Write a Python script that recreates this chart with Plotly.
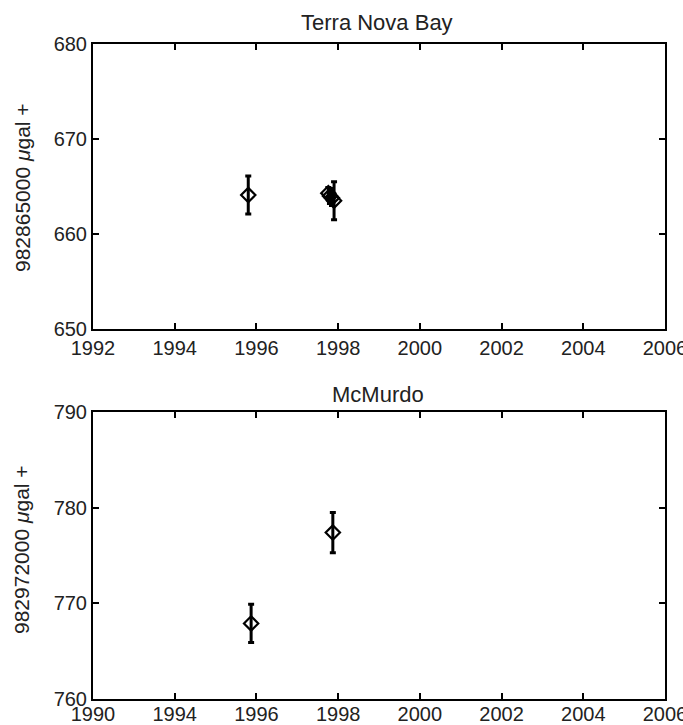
import plotly.graph_objects as go

# Terra Nova Bay data
tnb_year = [1995.8, 1997.76, 1997.8, 1997.85, 1997.9]
tnb_val = [664.1, 664.3, 664.0, 663.8, 663.5]
tnb_err = [2.0, 0.6, 0.8, 0.8, 2.0]

# McMurdo data
mcm_year = [1995.87, 1997.87]
mcm_val = [767.9, 777.4]
mcm_err = [2.0, 2.1]

top_xticks = [1992, 1994, 1996, 1998, 2000, 2002, 2004, 2006]
top_xtext = ["1992", "1994", "1996", "1998", "2000", "2002", "2004", "2006"]
bot_xtext = ["1990", "1994", "1996", "1998", "2000", "2002", "2004", "2006"]
top_yticks = [650, 660, 670, 680]
bot_yticks = [760, 770, 780, 790]

FONT = "Liberation Sans, Arial, sans-serif"

fig = go.Figure()

marker = dict(symbol="diamond-open", size=11, color="black", line=dict(width=2.2, color="black"))
errstyle = dict(type="data", visible=True, color="black", thickness=3, width=3)

fig.add_trace(go.Scatter(x=tnb_year, y=tnb_val, mode="markers", marker=marker,
                         error_y=dict(array=tnb_err, **errstyle), xaxis="x", yaxis="y",
                         showlegend=False))
fig.add_trace(go.Scatter(x=mcm_year, y=mcm_val, mode="markers", marker=marker,
                         error_y=dict(array=mcm_err, **errstyle), xaxis="x2", yaxis="y2",
                         showlegend=False))

axis_common = dict(showline=True, linewidth=2, linecolor="black", mirror="ticks",
                   ticks="inside", ticklen=6, tickwidth=1.5, tickcolor="black",
                   showgrid=False, zeroline=False, ticklabeloverflow="allow",
                   automargin=False,
                   tickfont=dict(family=FONT, size=20, color="#222"))

BOT = 699
H = BOT - 44
top_dom = [(BOT - 329) / H, 1.0]
bot_dom = [0.0, (BOT - 412) / H]

fig.update_layout(
    width=683, height=725,
    margin=dict(l=93, r=18, t=44, b=725 - BOT),
    plot_bgcolor="white", paper_bgcolor="white",
    font=dict(family=FONT, size=20, color="#222"),
    xaxis=dict(range=[1992, 2006], tickvals=top_xticks, ticktext=top_xtext,
               anchor="y", domain=[0, 1], **axis_common),
    yaxis=dict(range=[650, 680], tickvals=top_yticks, anchor="x", domain=top_dom, **axis_common),
    xaxis2=dict(range=[1992, 2006], tickvals=top_xticks, ticktext=bot_xtext,
                anchor="y2", domain=[0, 1], ticklabelstandoff=-4, **axis_common),
    yaxis2=dict(range=[760, 790], tickvals=bot_yticks, anchor="x2", domain=bot_dom, **axis_common),
    annotations=[
        dict(text="Terra Nova Bay", xref="paper", yref="paper", x=(377 - 93) / 572, y=(BOT - 22) / H,
             showarrow=False, font=dict(size=22), xanchor="center", yanchor="middle"),
        dict(text="McMurdo", xref="paper", yref="paper", x=(378 - 93) / 572, y=(BOT - 394) / H,
             showarrow=False, font=dict(size=22), xanchor="center", yanchor="middle"),
        dict(text="982865000 <i>μ</i>gal +", xref="paper", yref="paper", x=(23 - 93) / 572,
             y=(BOT - 188) / H, textangle=-90, showarrow=False, font=dict(size=21),
             xanchor="center", yanchor="middle"),
        dict(text="982972000 <i>μ</i>gal +", xref="paper", yref="paper", x=(21 - 93) / 572,
             y=(BOT - 550) / H, textangle=-90, showarrow=False, font=dict(size=21),
             xanchor="center", yanchor="middle"),
    ],
)

fig.write_html("out.html")
